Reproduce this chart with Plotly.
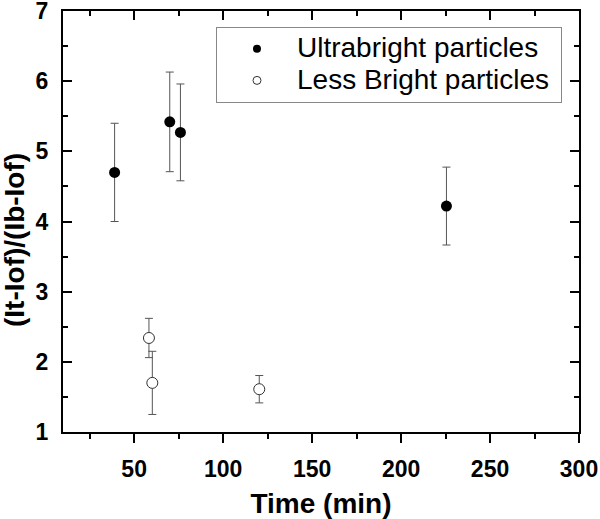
import plotly.graph_objects as go

# Ultrabright particles (filled)
ub_time = [39, 70, 76, 225.5]
ub_ratio = [4.70, 5.42, 5.27, 4.22]
ub_err = [0.70, 0.71, 0.69, 0.555]

# Less bright particles (open)
lb_time = [58.3, 60.2, 120.3]
lb_ratio = [2.34, 1.70, 1.61]
lb_err = [0.28, 0.45, 0.195]

x_ticks = [50, 100, 150, 200, 250, 300]
y_ticks = [1, 2, 3, 4, 5, 6, 7]

series_names = ["Ultrabright particles", "Less Bright particles"]

FONT = "Arial, Liberation Sans, sans-serif"
ERR_COLOR = "#555555"


def legend_label(s):
    return "<span style='font-size:28px'>" + s + "</span>&nbsp;"


fig = go.Figure()

fig.add_trace(go.Scatter(
    x=ub_time, y=ub_ratio, mode="markers", showlegend=False,
    marker=dict(symbol="circle", size=11, color="black", line=dict(width=0)),
    error_y=dict(type="data", array=ub_err, visible=True, color=ERR_COLOR, thickness=1, width=4),
))
fig.add_trace(go.Scatter(
    x=lb_time, y=lb_ratio, mode="markers", showlegend=False,
    marker=dict(symbol="circle", size=11, color="white", line=dict(width=1, color="#333333")),
    error_y=dict(type="data", array=lb_err, visible=True, color=ERR_COLOR, thickness=1, width=4),
))
# legend entries
fig.add_trace(go.Scatter(
    x=[None], y=[None], mode="markers", name=legend_label(series_names[0]),
    marker=dict(symbol="circle", size=8, color="black", line=dict(width=0)),
))
fig.add_trace(go.Scatter(
    x=[None], y=[None], mode="markers", name=legend_label(series_names[1]),
    marker=dict(symbol="circle", size=8, color="white", line=dict(width=1, color="#333333")),
))
# top axis helper (inside ticks)
fig.add_trace(go.Scatter(x=[None], y=[None], xaxis="x2", showlegend=False))

fig.update_layout(
    template="none",
    width=600, height=519,
    margin=dict(l=63, r=21, t=11, b=87),
    plot_bgcolor="white", paper_bgcolor="white",
    font=dict(family=FONT, color="black"),
    xaxis=dict(
        range=[10, 300], tickvals=x_ticks, ticks="outside", ticklen=9, tickwidth=1.5,
        tickcolor="black", showline=True, linecolor="black", linewidth=2,
        showgrid=False, zeroline=False, ticklabelstandoff=6, automargin=False,
        ticklabeloverflow="allow",
        tickfont=dict(size=23, family=FONT, weight="bold"),
        minor=dict(dtick=25, tick0=0, ticks="outside", ticklen=5, tickwidth=1.5, tickcolor="black"),
        title=dict(text="Time (min)", font=dict(size=28, family=FONT, weight="bold"), standoff=16),
    ),
    xaxis2=dict(
        overlaying="x", side="top", matches="x", range=[10, 300], tickvals=x_ticks,
        ticks="inside", ticklen=9, tickwidth=1.5, tickcolor="black", showticklabels=False,
        showline=True, linecolor="black", linewidth=2, showgrid=False, zeroline=False,
        automargin=False,
        minor=dict(dtick=25, tick0=0, ticks="inside", ticklen=5, tickwidth=1.5, tickcolor="black"),
    ),
    yaxis=dict(
        range=[1, 7], tickvals=y_ticks, ticks="inside", ticklen=9, tickwidth=1.5,
        tickcolor="black", showline=True, linecolor="black", linewidth=2, mirror="ticks",
        showgrid=False, zeroline=False, ticklabelstandoff=8, automargin=False,
        ticklabeloverflow="allow",
        tickfont=dict(size=23, family=FONT, weight="bold"),
        minor=dict(dtick=0.5, tick0=0, ticks="inside", ticklen=5, tickwidth=1.5, tickcolor="black"),
    ),
    legend=dict(
        x=0.2965, y=0.962, xanchor="left", yanchor="top",
        bgcolor="white", bordercolor="#888888", borderwidth=1,
        font=dict(size=22, family=FONT, color="black"),
        itemwidth=70, tracegroupgap=0,
    ),
    annotations=[dict(
        text="(It-Iof)/(Ib-Iof)", textangle=-90, showarrow=False,
        xref="paper", yref="paper", x=-0.095, y=0.456, xanchor="center", yanchor="middle",
        font=dict(size=28, family=FONT, weight="bold", color="black"),
    )],
)

fig.write_html(
    "out.html",
    config={"displayModeBar": False},
    post_script="document.body.style.margin='0';document.body.style.overflow='hidden';",
)
